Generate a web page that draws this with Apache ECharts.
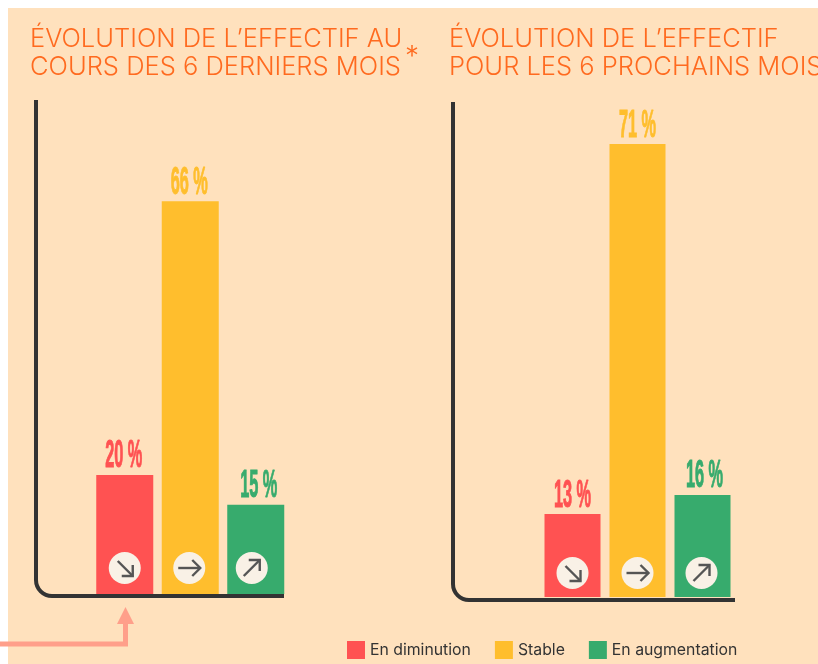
<!DOCTYPE html>
<html><head><meta charset="utf-8">
<style>html,body{margin:0;padding:0;background:#fff}#c{width:818px;height:664px}</style>
<script src="https://cdn.jsdelivr.net/npm/echarts@6/dist/echarts.min.js"></script>
</head><body><div id="c"></div>
<script>
const categories = ["En diminution", "Stable", "En augmentation"];
const valuesPast = [20, 66, 15];
const valuesNext = [13, 71, 16];
const colors = ["#FF5252", "#FFBE2D", "#37AB6D"];
const titlePast = "ÉVOLUTION DE L’EFFECTIF AU\nCOURS DES 6 DERNIERS MOIS";
const titleNext = "ÉVOLUTION DE L’EFFECTIF\nPOUR LES 6 PROCHAINS MOIS";
const ORANGE = "#FF6A1F", INK = "#333333", BG = "#FFE1BD", UI = "Inter";

function barSeries(gridIdx, vals, width) {
  return categories.map((name, i) => ({
    type: "bar", name, xAxisIndex: gridIdx, yAxisIndex: gridIdx, stack: "s" + gridIdx,
    barWidth: width, itemStyle: { color: colors[i] }, z: 2,
    data: vals.map((v, j) => (i === j ? v : null))
  }));
}
function labelSeries(gridIdx, vals, dx) {
  return {
    type: "custom", xAxisIndex: gridIdx, yAxisIndex: gridIdx, silent: true, z: 4,
    data: vals.map((v, i) => [i, v]),
    renderItem(p, api) {
      const i = api.value(0), pt = api.coord([i, api.value(1)]);
      return { type: "text", x: pt[0] + dx[i], y: pt[1] + 1, scaleX: 0.43,
        style: { text: api.value(1) + " %", fill: colors[i], stroke: colors[i], lineWidth: 1,
          font: 'bold 38px "Liberation Sans"', align: "center", verticalAlign: "bottom" } };
    }
  };
}
const arrows = [
  [[-7, -7, 8, 8], [8, -3, 8, 8, -3, 8]],
  [[-11, 0, 11, 0], [3, -8, 11, 0, 3, 8]],
  [[-8, 8, 8, -8], [-3, -8, 8, -8, 8, 3]]
];
function iconSeries(gridIdx, vals, dx, up) {
  return {
    type: "custom", xAxisIndex: gridIdx, yAxisIndex: gridIdx, silent: true, z: 5,
    data: vals.map((v, i) => [i, 0]),
    renderItem(p, api) {
      const i = api.value(0), pt = api.coord([i, 0]);
      const st = { stroke: "#555555", lineWidth: 2.4, fill: null };
      const a = arrows[i];
      return { type: "group", x: pt[0] + dx[i], y: pt[1] - up, children: [
        { type: "circle", shape: { cx: 0, cy: 0, r: 16 }, style: { fill: "#F9F1E6" } },
        { type: "line", shape: { x1: a[0][0], y1: a[0][1], x2: a[0][2], y2: a[0][3] }, style: st },
        { type: "polyline", shape: { points: [[a[1][0], a[1][1]], [a[1][2], a[1][3]], [a[1][4], a[1][5]]] }, style: st }
      ] };
    }
  };
}
function lAxis(x, top, y, end) {
  const st = { stroke: INK, lineWidth: 4, fill: null }, r = 16;
  return [
    { type: "line", z: 10, silent: true, shape: { x1: x, y1: top, x2: x, y2: y - r }, style: st },
    { type: "arc", z: 10, silent: true, shape: { cx: x + r, cy: y - r, r, startAngle: Math.PI / 2, endAngle: Math.PI, clockwise: true }, style: st },
    { type: "line", z: 10, silent: true, shape: { x1: x + r, y1: y, x2: end, y2: y }, style: st }
  ];
}
const chart = echarts.init(document.getElementById("c"), null, { renderer: "canvas" });
chart.setOption({
  animation: false,
  backgroundColor: "#FFFFFF",
  title: [
    { text: titlePast, left: 30, top: 25, padding: 0, textStyle: { fontFamily: UI, fontWeight: 300, fontSize: 25.5, lineHeight: 28, color: ORANGE } },
    { text: titleNext, left: 449, top: 25, padding: 0, textStyle: { fontFamily: UI, fontWeight: 300, fontSize: 25.5, lineHeight: 28, color: ORANGE } }
  ],
  legend: {
    data: categories, left: 347, top: 641, padding: 0, itemWidth: 18, itemHeight: 18, itemGap: 24, icon: "rect",
    textStyle: { fontFamily: UI, fontSize: 15.8, color: "#333", padding: [3, 0, 0, 0] }, selectedMode: false
  },
  grid: [
    { left: 92, width: 196.5, top: 118, height: 476 },
    { left: 540, width: 195, top: 86.6, height: 510.4 }
  ],
  xAxis: [0, 1].map(g => ({ type: "category", gridIndex: g, data: categories, show: false })),
  yAxis: [0, 1].map(g => ({ type: "value", gridIndex: g, min: 0, max: 80, show: false })),
  series: [
    ...barSeries(0, valuesPast, 57),
    ...barSeries(1, valuesNext, 56),
    labelSeries(0, valuesPast, [-1, -1, 3]),
    labelSeries(1, valuesNext, [0, 0, 2]),
    iconSeries(0, valuesPast, [0, -1, -4], 26),
    iconSeries(1, valuesNext, [0, 0, -1], 24)
  ],
  graphic: [
    { type: "rect", z: -10, silent: true, shape: { x: 8, y: 8, width: 810, height: 656 }, style: { fill: BG } },
    ...lAxis(36, 100, 596, 284),
    ...lAxis(453, 102, 600, 735),
    { type: "text", x: 405, y: 44, style: { text: "*", font: '300 28px Inter', fill: ORANGE } },
    { type: "polyline", z: 3, silent: true, shape: { points: [[0, 644], [125.5, 644], [125.5, 622]] },
      style: { stroke: "#FF9F8A", lineWidth: 5, fill: null } },
    { type: "polygon", z: 3, silent: true, shape: { points: [[125.5, 607], [134, 624], [117, 624]] },
      style: { fill: "#FF9F8A" } }
  ]
});
</script></body></html>
